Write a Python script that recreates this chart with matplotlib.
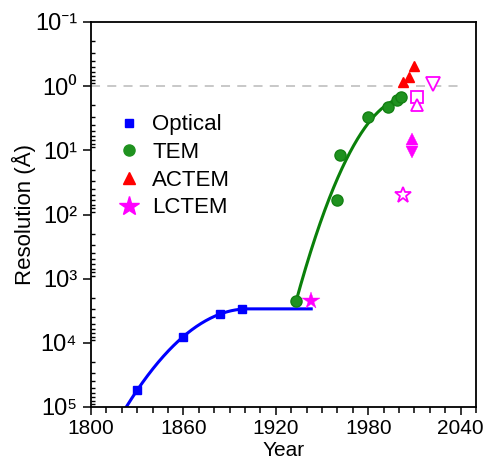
import matplotlib
matplotlib.use("Agg")
import matplotlib.pyplot as plt
import numpy as np
from matplotlib.ticker import LogLocator, MultipleLocator, NullFormatter, FuncFormatter

plt.rcParams['font.family'] = ['Liberation Sans', 'Noto Sans', 'DejaVu Sans']

# optical microscopy
opt_year = [1830, 1860, 1884, 1898]
opt_res = [54600, 8000, 3530, 2990]

# TEM
tem_year = [1933, 1960, 1962, 1980, 1993, 1999, 2001.5]
tem_res = [2190, 60, 11.7, 3.0, 2.1, 1.64, 1.5]

# aberration corrected TEM
actem_year = [2002.4, 2006.7, 2010]
actem_res = [0.85, 0.71, 0.48]

# liquid cell TEM (different marker per work)
lc_year = [1943, 2002.4, 2008.6, 2008.6, 2011.5, 2011.5, 2021.9]
lc_res = [2190, 49.5, 6.7, 10.8, 1.5, 2.0, 0.92]
lc_marker = ['*', '*', '^', 'v', 's', '^', 'v']
lc_filled = [True, False, True, True, False, False, False]
lc_size = [13, 12, 8.5, 8.5, 8, 9, 10]

SUP = str.maketrans('-0123456789', '⁻⁰¹²³⁴⁵⁶⁷⁸⁹')


def sci(v, pos):
    e = int(round(np.log10(v)))
    return '10' + str(e).translate(SUP)


fig = plt.figure(figsize=(4.85, 4.63), dpi=100)
ax = fig.add_axes([91/485, 56/463, 385/485, 385/463])

ax.hlines(1, 1800, 2038, colors='#c4c4c4', linestyles=(0, (5, 4)), lw=1.3, zorder=1)

# fit lines (quadratic in log space)
p = np.polyfit(opt_year, np.log10(opt_res), 2)
xf = np.linspace(1815, 1943, 300)
yf = np.minimum.accumulate(np.polyval(p, xf))
ax.plot(xf, 10**yf, color='#0000ff', lw=2.2, zorder=2)

p2 = np.polyfit(tem_year, np.log10(tem_res), 2)
xf2 = np.linspace(tem_year[0], tem_year[-1], 300)
ax.plot(xf2, 10**np.polyval(p2, xf2), color='#0a800a', lw=2.2, zorder=2)

ax.plot(opt_year, opt_res, 's', color='#0000ff', ms=6, ls='none', zorder=3)
ax.plot(tem_year, tem_res, 'o', color='#1f921f', mec='#138013', ms=8, ls='none', zorder=3)
ax.plot(actem_year, actem_res, '^', color='#ff0000', ms=7.5, ls='none', zorder=3)
for x, y, m, f, s in zip(lc_year, lc_res, lc_marker, lc_filled, lc_size):
    ax.plot(x, y, m, ms=s, mec='#ff00ff', mfc='#ff00ff' if f else 'white',
            mew=0.3 if f else 1.3, ls='none', zorder=4)

# legend handles
h = [ax.plot([], [], 's', color='#0000ff', ms=6)[0],
     ax.plot([], [], 'o', color='#1f921f', ms=8)[0],
     ax.plot([], [], '^', color='#ff0000', ms=8)[0],
     ax.plot([], [], '*', color='#ff00ff', ms=15)[0]]
ax.legend(h, ['Optical', 'TEM', 'ACTEM', 'LCTEM'], loc='upper left',
          bbox_to_anchor=(0.07, 0.76), frameon=False, fontsize=16,
          handlelength=1.0, handletextpad=0.55, labelspacing=0.3,
          borderaxespad=0, borderpad=0)

ax.set_yscale('log')
ax.set_ylim(1e5, 1e-1)
ax.set_xlim(1800, 2050)
ax.xaxis.set_major_locator(MultipleLocator(60))
ax.xaxis.set_minor_locator(MultipleLocator(10))
ax.yaxis.set_major_locator(LogLocator(base=10))
ax.yaxis.set_major_formatter(FuncFormatter(sci))
ax.yaxis.set_minor_locator(LogLocator(base=10, subs=np.arange(2, 10)))
ax.yaxis.set_minor_formatter(NullFormatter())

ax.tick_params(axis='both', which='major', labelsize=15, width=1.1)
ax.tick_params(axis='x', which='major', direction='out', length=6, pad=3)
ax.tick_params(axis='x', which='minor', direction='out', length=4, width=1.1)
ax.tick_params(axis='y', which='major', direction='out', length=6, pad=4, labelsize=17)
ax.tick_params(axis='y', which='minor', direction='in', length=3, width=1.0)

for s in ax.spines.values():
    s.set_linewidth(1.3)

ax.set_xlabel('Year', fontsize=15, labelpad=2)
ax.set_ylabel('Resolution (Å)', fontsize=16, labelpad=-1)

fig.savefig('out.png', dpi=100)
